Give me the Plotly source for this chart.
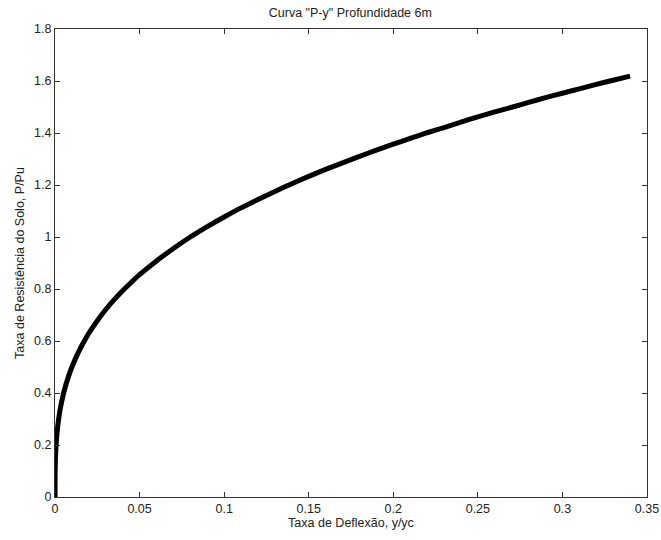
import plotly.graph_objects as go

# Deflection ratio y/yc and soil resistance ratio P/Pu
defl = [0, 0.00005, 0.0001, 0.0002, 0.0005, 0.001, 0.002, 0.003, 0.004, 0.006,
        0.008, 0.01, 0.0125, 0.015, 0.0175, 0.02, 0.025, 0.03, 0.035, 0.04,
        0.045, 0.05, 0.06, 0.07, 0.08, 0.09, 0.10, 0.11, 0.12, 0.13, 0.14,
        0.15, 0.16, 0.17, 0.18, 0.19, 0.20, 0.21, 0.22, 0.23, 0.24, 0.25,
        0.26, 0.27, 0.28, 0.29, 0.30, 0.31, 0.32, 0.33, 0.34]
resist = [0, 0.085, 0.108, 0.136, 0.184, 0.232, 0.292, 0.335, 0.368, 0.422,
          0.464, 0.500, 0.538, 0.572, 0.602, 0.630, 0.678, 0.721, 0.759, 0.793,
          0.825, 0.855, 0.908, 0.956, 1.000, 1.040, 1.077, 1.112, 1.144, 1.175, 1.205,
          1.233, 1.260, 1.285, 1.310, 1.334, 1.357, 1.379, 1.401, 1.421, 1.442, 1.462,
          1.481, 1.499, 1.518, 1.536, 1.553, 1.570, 1.587, 1.603, 1.619]

x_ticks = [0, 0.05, 0.1, 0.15, 0.2, 0.25, 0.3, 0.35]
x_labels = ["0", "0.05", "0.1", "0.15", "0.2", "0.25", "0.3", "0.35"]
y_ticks = [0, 0.2, 0.4, 0.6, 0.8, 1.0, 1.2, 1.4, 1.6, 1.8]
y_labels = ["0", "0.2", "0.4", "0.6", "0.8", "1", "1.2", "1.4", "1.6", "1.8"]

font = dict(family="Liberation Sans, Arial, sans-serif", size=12.5, color="#222222")

fig = go.Figure()
fig.add_trace(go.Scatter(
    x=defl, y=resist, mode="lines",
    line=dict(color="black", width=5, shape="spline", smoothing=0.5),
    showlegend=False, hoverinfo="skip",
))

axis_common = dict(
    showgrid=False, zeroline=False, showline=True, linecolor="#333333",
    linewidth=1, mirror="ticks", ticks="inside", ticklen=5,
    tickcolor="#333333", tickfont=font, automargin=False,
)

fig.update_layout(
    width=661, height=540,
    margin=dict(l=55, r=14, t=29, b=43),
    paper_bgcolor="white", plot_bgcolor="white",
    font=font,
    title=dict(text='Curva "P-y" Profundidade 6m', x=0.53, xanchor="center",
               y=0.985, yanchor="top", font=dict(size=12.5, color="#222222",
               family="Liberation Sans, Arial, sans-serif")),
    xaxis=dict(range=[0, 0.35], tickvals=x_ticks, ticktext=x_labels,
               title=dict(text="Taxa de Deflexão, y/yc", standoff=2,
                          font=font), **axis_common),
    yaxis=dict(range=[0, 1.8], tickvals=y_ticks, ticktext=y_labels,
               title=dict(text="Taxa de Resistência do Solo, P/Pu", standoff=6,
                          font=font), **axis_common),
)

fig.write_html("out.html")
